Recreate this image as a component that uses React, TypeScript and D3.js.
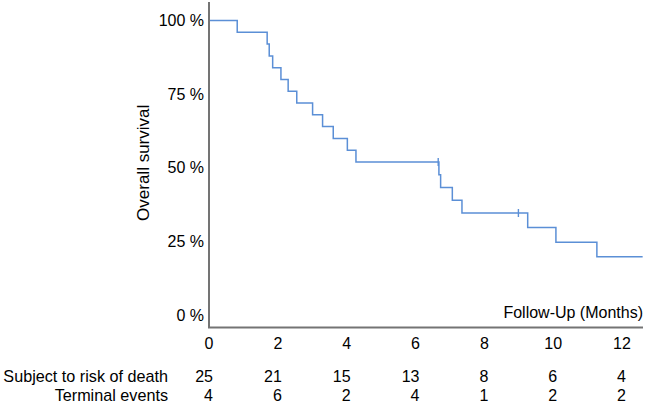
import React from "react";
import * as d3 from "d3";

const stepTimes = [0, 0.82, 1.69, 1.75, 1.85, 2.09, 2.3, 2.55, 3.01, 3.3, 3.61, 4.02, 4.27, 6.68, 6.73, 7.07, 7.35, 9.26, 10.08, 11.27];
const stepSurvival = [100, 96, 92, 88, 84, 80, 76, 72, 68, 64, 60, 56, 52, 47.67, 43.33, 39, 34.67, 29.71, 24.76, 19.81];
const followUpEnd = 12.6;
const censorTimes = [6.66, 8.99];
const censorSurvival = [52, 34.67];

const xTicks = [0, 2, 4, 6, 8, 10, 12];
const yTicks = [0, 25, 50, 75, 100];
const atRisk = [25, 21, 15, 13, 8, 6, 4];
const terminalEvents = [4, 6, 2, 4, 1, 2, 2];

const FONT = "'Liberation Sans', Arial, Helvetica, sans-serif";

export default function App() {
  const x = d3.scaleLinear().domain([0, 12]).range([209, 622]);
  const y = d3.scaleLinear().domain([-4.2, 106.3]).range([327.5, 2]);

  const pts: [number, number][] = stepTimes.map((t, i) => [t, stepSurvival[i]]);
  pts.push([followUpEnd, stepSurvival[stepSurvival.length - 1]]);
  const line = d3
    .line<[number, number]>()
    .x((d) => x(d[0]))
    .y((d) => y(d[1]))
    .curve(d3.curveStepAfter);

  const axisColor = "#747474";
  const curveColor = "#5b8fd6";

  return (
    <svg
      width={650}
      height={406}
      style={{ position: "absolute", left: 0, top: 0, background: "#fff" }}
      fontFamily={FONT}
    >
      <path d={line(pts) || ""} fill="none" stroke={curveColor} strokeWidth={1.5} />
      {censorTimes.map((t, i) => (
        <line
          key={"c" + i}
          x1={x(t)}
          x2={x(t)}
          y1={y(censorSurvival[i]) - 4}
          y2={y(censorSurvival[i]) + 4}
          stroke={curveColor}
          strokeWidth={1.4}
        />
      ))}
      <path
        d={`M${x(0)},2 L${x(0)},${y(-4.2)} L643,${y(-4.2)}`}
        fill="none"
        stroke={axisColor}
        strokeWidth={2}
      />
      {yTicks.map((v) => (
        <text
          key={"y" + v}
          x={204}
          y={y(v)}
          textAnchor="end"
          dominantBaseline="central"
          fontSize={16}
          fill="#000"
        >
          {v} %
        </text>
      ))}
      <text
        transform={`translate(143,${y(50) - 5}) rotate(-90)`}
        textAnchor="middle"
        dominantBaseline="central"
        fontSize={17}
        fill="#000"
      >
        Overall survival
      </text>
      <text x={643} y={312} textAnchor="end" dominantBaseline="central" fontSize={16} fill="#000">
        Follow-Up (Months)
      </text>
      {xTicks.map((t) => (
        <text
          key={"x" + t}
          x={x(t)}
          y={343}
          textAnchor="middle"
          dominantBaseline="central"
          fontSize={16}
          fill="#000"
        >
          {t}
        </text>
      ))}
      <text x={168} y={376} textAnchor="end" dominantBaseline="central" fontSize={16.2} fill="#000">
        Subject to risk of death
      </text>
      <text x={168} y={395} textAnchor="end" dominantBaseline="central" fontSize={16.2} fill="#000">
        Terminal events
      </text>
      {xTicks.map((t, i) => (
        <text
          key={"r" + t}
          x={x(t) + 4}
          y={376}
          textAnchor="end"
          dominantBaseline="central"
          fontSize={16}
          fill="#000"
        >
          {atRisk[i]}
        </text>
      ))}
      {xTicks.map((t, i) => (
        <text
          key={"e" + t}
          x={x(t) + 4}
          y={395}
          textAnchor="end"
          dominantBaseline="central"
          fontSize={16}
          fill="#000"
        >
          {terminalEvents[i]}
        </text>
      ))}
    </svg>
  );
}
